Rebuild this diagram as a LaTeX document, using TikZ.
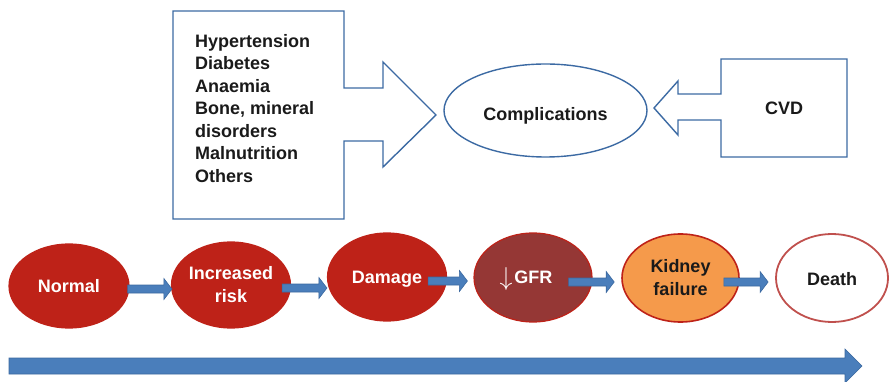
\documentclass[tikz,border=0pt]{standalone}
\usepackage{fontspec}
\setmainfont{Liberation Sans}
\usetikzlibrary{calc,shapes.geometric}
\definecolor{outl}{HTML}{3C6AA3}
\definecolor{redf}{HTML}{BE2218}
\definecolor{gfrf}{HTML}{953735}
\definecolor{kidf}{HTML}{F59A4B}
\definecolor{deathb}{HTML}{C0504D}
\definecolor{arrf}{HTML}{4A7EBB}
\definecolor{arrb}{HTML}{3B689F}
\definecolor{txt}{HTML}{1A1A1A}
\newcommand{\lowr}[2]{\raisebox{-#1}[\height][\depth]{#2}}
\tikzset{
  outshape/.style={draw=outl, line width=1.4pt, line join=miter},
  stage/.style={ellipse, inner sep=0pt, align=center, line width=1.2pt,
    font=\bfseries\fontsize{18}{23}\selectfont},
  redstage/.style={stage, fill=redf, draw=redf, text=white},
  blockarrow/.style n args={3}{draw=arrb, fill=arrf, line width=0.6pt,
    to path={let \p1=(\tikztostart), \p2=(\tikztotarget) in
      (\x1,\y1+#1) -- (\x2-#3,\y1+#1) -- (\x2-#3,\y1+#2) -- (\x2,\y1)
      -- (\x2-#3,\y1-#2) -- (\x2-#3,\y1-#1) -- (\x1,\y1-#1) -- cycle}},
}
\begin{document}
\begin{tikzpicture}[x=1pt,y=-1pt]
\useasboundingbox (0,0) rectangle (889,382);
% left box with block arrow
\draw[outshape] (173,11) -- (344,11) -- (344,88) -- (383,88) -- (383,62)
  -- (436,115) -- (383,167) -- (383,141) -- (344,141) -- (344,219)
  -- (173,219) -- cycle;
\node[anchor=north west, align=left, inner sep=0pt, text=txt,
  font=\bfseries\fontsize{18}{22.5}\selectfont] (list) at (195,34)
  {Hypertension\\Diabetes\\Anaemia\\Bone, mineral\\disorders\\Malnutrition\\Others};
% complications
\node[ellipse, draw=outl, line width=1.4pt, minimum width=203pt, minimum height=93pt,
  inner sep=0pt, text=txt, font=\bfseries\fontsize{18}{22}\selectfont] (comp) at (545.5,110.5) {\lowr{5pt}{Complications}};
% CVD box with block arrow
\draw[outshape] (721,59) -- (847,59) -- (847,157) -- (721,157) -- (721,120)
  -- (678,120) -- (678,135) -- (654,108) -- (678,81) -- (678,94) -- (721,94) -- cycle;
\node[text=txt, font=\bfseries\fontsize{18}{22}\selectfont] (cvd) at (784,108.5) {CVD};
% stages
\node[redstage, minimum width=120pt, minimum height=84pt] (normal) at (69,286) {Normal};
\node[redstage, minimum width=119pt, minimum height=86pt] (incr) at (231,285) {Increased\\risk};
\node[redstage, minimum width=119pt, minimum height=88pt] (damage) at (387,277) {\lowr{2.5pt}{Damage}};
\node[stage, fill=gfrf, draw=redf, text=white, minimum width=118pt, minimum height=89pt] (gfr) at (533,277.5)
  {\lowr{1.5pt}{\raisebox{-1.5pt}{\scalebox{1.5}{$\downarrow$}}\kern2pt GFR}\kern14pt};
\node[stage, fill=kidf, draw=redf, line width=1.6pt, text=txt, minimum width=117pt, minimum height=88pt] (kidney) at (680.5,278) {Kidney\\failure};
\node[stage, fill=white, draw=deathb, line width=1.8pt, text=txt, minimum width=112pt, minimum height=88pt] (death) at (832,278) {\lowr{1pt}{Death}};
% connectors
\coordinate (a1s) at ([shift={(-2,3)}]normal.east);
\coordinate (a1e) at ([shift={(1,0)}]incr.west);
\coordinate (a2s) at ([shift={(-9,3)}]incr.east);
\coordinate (a2e) at (damage.west);
\coordinate (a3s) at ([shift={(-19,4)}]damage.east);
\coordinate (a3e) at ([shift={(-6,0)}]gfr.west);
\coordinate (a4s) at ([shift={(-24,4.5)}]gfr.east);
\coordinate (a4e) at ([shift={(-7,0)}]kidney.west);
\coordinate (a5s) at ([shift={(-16,4)}]kidney.east);
\coordinate (a5e) at ([shift={(-7,0)}]death.west);
\draw[blockarrow={4pt}{10.5pt}{8pt}] (a1s) to (a1e);
\draw[blockarrow={4pt}{10.5pt}{8pt}] (a2s) to (a2e);
\draw[blockarrow={4pt}{10.5pt}{8pt}] (a3s) to (a3e);
\draw[blockarrow={4pt}{10.5pt}{8pt}] (a4s) to (a4e);
\draw[blockarrow={4pt}{10.5pt}{8pt}] (a5s) to (a5e);
% time line
\coordinate (tls) at (9,366);
\coordinate (tle) at (862,366);
\draw[blockarrow={8pt}{17pt}{17pt}] (tls) to (tle);
\end{tikzpicture}
\end{document}
